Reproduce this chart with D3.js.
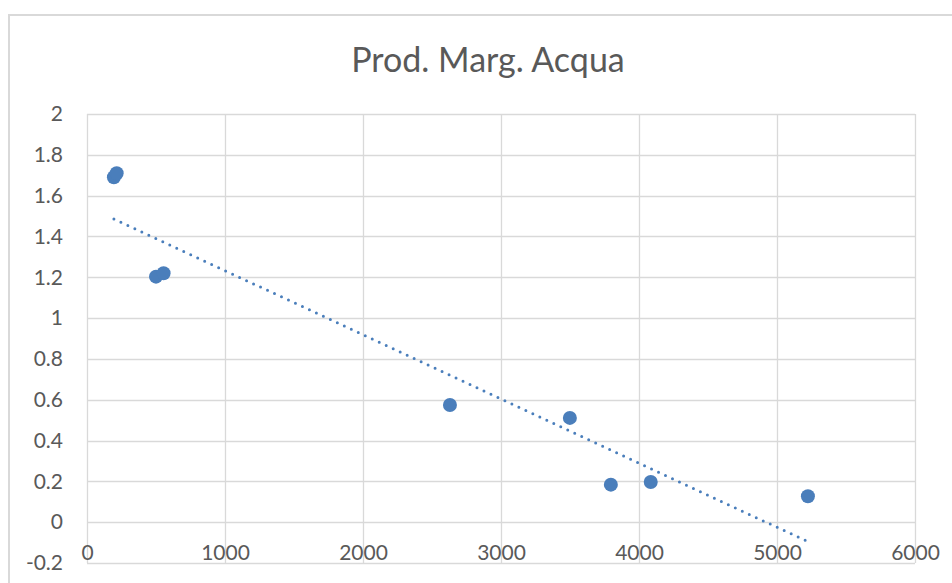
<!DOCTYPE html>
<html>
<head>
<meta charset="utf-8">
<script src="https://cdn.jsdelivr.net/npm/d3@7"></script>
<style>
  html, body { margin: 0; padding: 0; background: #fff; }
  svg { display: block; }
</style>
</head>
<body>
<svg id="chart" width="952" height="583"></svg>
<script>
// Water marginal productivity vs. water volume
const title = "Prod. Marg. Acqua";
const xValues = [195, 215, 500, 555, 2630, 3499, 3796, 4085, 5224];
const yValues = [1.69, 1.71, 1.203, 1.22, 0.574, 0.511, 0.184, 0.197, 0.127];
const xTicks = [0, 1000, 2000, 3000, 4000, 5000, 6000];
const yTicks = [-0.2, 0, 0.2, 0.4, 0.6, 0.8, 1, 1.2, 1.4, 1.6, 1.8, 2];

const W = 952, H = 583;
const plot = { left: 87, right: 915, top: 114, bottom: 563 };
const font = "Lato, 'Open Sans', sans-serif";
const textColor = "#595959";
const gridColor = "#d9d9d9";
const markColor = "#4a7ebb";

const svg = d3.select("#chart");

const x = d3.scaleLinear().domain([0, 6000]).range([plot.left, plot.right]);
const y = d3.scaleLinear().domain([-0.2, 2]).range([plot.bottom, plot.top]);

// outer chart frame
svg.append("rect")
  .attr("x", 9).attr("y", 15)
  .attr("width", W + 20).attr("height", H + 20)
  .attr("fill", "#fff").attr("stroke", gridColor).attr("stroke-width", 2);

// title
svg.append("text")
  .attr("x", 488).attr("y", 72)
  .attr("text-anchor", "middle")
  .attr("font-family", font).attr("font-size", 34)
  .attr("fill", textColor)
  .text(title);

// gridlines
const grid = svg.append("g");
grid.selectAll("line.h").data(yTicks).join("line")
  .attr("x1", plot.left).attr("x2", plot.right)
  .attr("y1", d => Math.round(y(d)) + 0.5).attr("y2", d => Math.round(y(d)) + 0.5)
  .attr("stroke", gridColor).attr("stroke-width", 1.3);
grid.selectAll("line.v").data(xTicks).join("line")
  .attr("y1", plot.top).attr("y2", plot.bottom)
  .attr("x1", d => Math.round(x(d)) + 0.5).attr("x2", d => Math.round(x(d)) + 0.5)
  .attr("stroke", gridColor).attr("stroke-width", 1.3);

// y axis labels (plain hyphen for negatives)
const yAxis = d3.axisLeft(y).tickValues(yTicks).tickSize(0).tickPadding(24)
  .tickFormat(d => String(+d.toFixed(1)));
svg.append("g").attr("transform", `translate(${plot.left},0)`).call(yAxis)
  .call(g => g.select(".domain").remove())
  .call(g => g.selectAll("text").attr("font-family", font).attr("font-size", 21).attr("fill", textColor));

// x axis labels, placed under the zero line
const xAxis = d3.axisBottom(x).tickValues(xTicks).tickSize(0).tickPadding(23)
  .tickFormat(d => String(d));
svg.append("g").attr("transform", `translate(0,${y(0)})`).call(xAxis)
  .call(g => g.select(".domain").remove())
  .call(g => g.selectAll("text").attr("font-family", font).attr("font-size", 21).attr("fill", textColor));

// linear trend line (least squares) over the data range
const mx = d3.mean(xValues), my = d3.mean(yValues);
let sxy = 0, sxx = 0;
xValues.forEach((v, i) => { sxy += (v - mx) * (yValues[i] - my); sxx += (v - mx) * (v - mx); });
const slope = sxy / sxx, intercept = my - slope * mx;
const x0 = d3.min(xValues), x1 = d3.max(xValues);
svg.append("line")
  .attr("x1", x(x0)).attr("y1", y(intercept + slope * x0))
  .attr("x2", x(x1)).attr("y2", y(intercept + slope * x1))
  .attr("stroke", markColor).attr("stroke-width", 3)
  .attr("stroke-linecap", "round").attr("stroke-dasharray", "0 7.7");

// data points
svg.append("g").selectAll("circle").data(xValues).join("circle")
  .attr("cx", d => x(d)).attr("cy", (d, i) => y(yValues[i]))
  .attr("r", 7).attr("fill", markColor);
</script>
</body>
</html>
